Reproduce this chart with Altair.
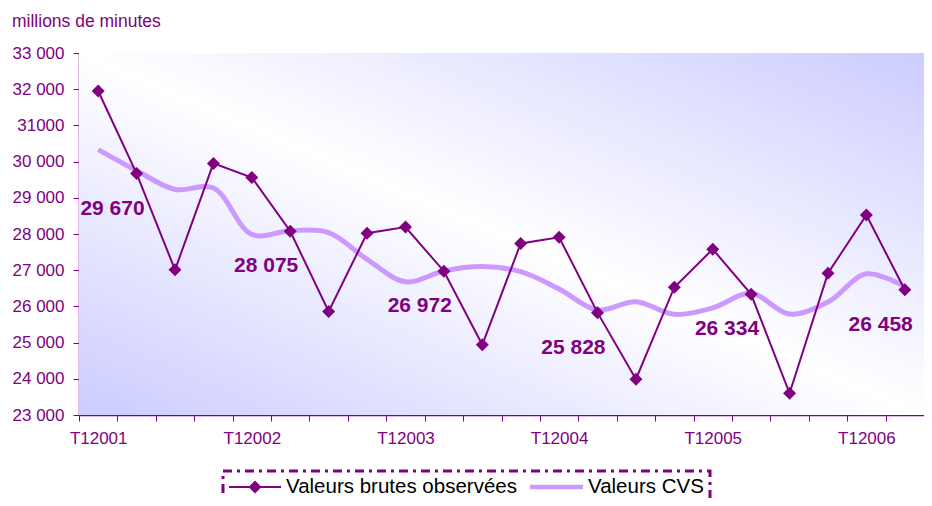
import altair as alt
import pandas as pd

quarters = [f"T{q}{y}" for y in range(2001, 2007) for q in range(1, 5)][:22]

raw_values = [31950, 29670, 27010, 29950, 29560, 28075, 25860, 28020,
              28190, 26972, 24940, 27740, 27910, 25828, 23990, 26530,
              27580, 26334, 23600, 26915, 28525, 26458]

cvs_values = [30330, 29750, 29230, 29270, 27990, 28090, 28040, 27300,
              26680, 26980, 27100, 26960, 26480, 25900, 26130, 25780,
              25960, 26360, 25790, 26120, 26900, 26545]

series_names = ["Valeurs brutes observées", "Valeurs CVS"]
series_colors = ["#800080", "#CC99FF"]
y_ticks = list(range(23000, 33001, 1000))

rows = []
for q, v in zip(quarters, raw_values):
    rows.append({"quarter": q, "series": "raw", "value": v})
for q, v in zip(quarters, cvs_values):
    rows.append({"quarter": q, "series": "cvs", "value": v})
df = pd.DataFrame(rows)

PURPLE = "#800080"
W, H = 845, 362

x_enc = alt.X(
    "quarter:N", title=None,
    scale=alt.Scale(type="band", domain=quarters, paddingInner=0, paddingOuter=0),
    axis=alt.Axis(
        labelAngle=0, tickBand="extent", grid=False,
        domainColor=PURPLE, domainWidth=1.5, tickColor=PURPLE, tickSize=6,
        labelColor=PURPLE, labelFontSize=17, labelPadding=9,
        labelExpr="isString(datum.value) && indexof(datum.value, 'T1') == 0 ? datum.value : ''",
    ),
)
y_enc = alt.Y(
    "value:Q", title=None,
    scale=alt.Scale(domain=[23000, 33000], nice=False, zero=False),
    axis=alt.Axis(
        values=y_ticks, grid=True, gridColor="#8f8f8f", gridWidth=1.2,
        domainColor=PURPLE, domainWidth=1.5, tickColor=PURPLE, tickSize=6,
        labelColor=PURPLE, labelFontSize=17, labelPadding=9,
        labelExpr="datum.value == 31000 ? '31000' : replace(format(datum.value, ','), ',', ' ')",
    ),
)

gradient = alt.LinearGradient(
    gradient="linear",
    stops=[alt.GradientStop(color="#CCCCFF", offset=0),
           alt.GradientStop(color="#FFFFFF", offset=0.5),
           alt.GradientStop(color="#CCCCFF", offset=1)],
    x1=1, y1=0, x2=0, y2=1,
)
one = alt.Data(values=[{"k": 0}])
bg = alt.Chart(one).mark_rect(fill=gradient).encode(
    x=alt.value(0), x2=alt.value(W), y=alt.value(0), y2=alt.value(H)
)

# ---- legend (drawn by hand) ----
LY = 434
legend_box = alt.Chart(one).mark_rect(
    filled=False, stroke=PURPLE, strokeWidth=3, strokeDash=[9, 5, 3, 5]
).encode(x=alt.value(144), x2=alt.value(631), y=alt.value(418), y2=alt.value(470))
leg_line1 = alt.Chart(one).mark_rule(color=series_colors[0], strokeWidth=2).encode(
    x=alt.value(150), x2=alt.value(202), y=alt.value(LY))
leg_pt1 = alt.Chart(one).mark_point(shape="diamond", filled=True, size=169, opacity=1,
                                    color=series_colors[0]).encode(x=alt.value(176), y=alt.value(LY))
leg_line2 = alt.Chart(one).mark_rule(color=series_colors[1], strokeWidth=4.5).encode(
    x=alt.value(451), x2=alt.value(504), y=alt.value(LY))
leg_txt1 = alt.Chart(alt.Data(values=[{"name": series_names[0]}])).mark_text(
    align="left", baseline="middle", fontSize=20.5, color="black"
).encode(x=alt.value(207), y=alt.value(LY), text="name:N")
leg_txt2 = alt.Chart(alt.Data(values=[{"name": series_names[1]}])).mark_text(
    align="left", baseline="middle", fontSize=20.5, color="black"
).encode(x=alt.value(509), y=alt.value(LY), text="name:N")

base = alt.Chart(df)
cvs_line = base.transform_filter("datum.series == 'cvs'").mark_line(
    strokeWidth=5, interpolate="catmull-rom", color=series_colors[1]
).encode(x=x_enc, y=y_enc)
raw_line = base.transform_filter("datum.series == 'raw'").mark_line(
    strokeWidth=2, color=series_colors[0]
).encode(x=x_enc, y=y_enc)
raw_pts = base.transform_filter("datum.series == 'raw'").mark_point(
    shape="diamond", filled=True, size=169, opacity=1, color=PURPLE
).encode(x=x_enc, y=y_enc)
labels = base.transform_filter(
    "datum.series == 'raw' && indexof(datum.quarter, 'T2') == 0"
).transform_calculate(
    label="replace(format(datum.value, ','), ',', ' ')"
).mark_text(
    align="right", baseline="middle", dx=8, dy=35, fontSize=21, fontWeight="bold", color=PURPLE
).encode(x=x_enc, y=y_enc, text="label:N")

chart = alt.layer(
    bg, cvs_line, raw_line, raw_pts, labels,
    legend_box, leg_line1, leg_pt1, leg_line2, leg_txt1, leg_txt2,
).properties(
    width=W, height=H,
    title=alt.TitleParams(
        "millions de minutes", anchor="start", frame="group", dx=-67, offset=14,
        fontSize=17.5, fontWeight="normal", color=PURPLE, font="Liberation Sans",
    ),
    autosize=alt.AutoSizeParams(type="none"),
    padding={"left": 71, "top": 45, "right": 0, "bottom": 83},
).configure(font="Liberation Sans").configure_view(stroke=None)

chart.save("out.html", embed_options={"renderer": "svg", "actions": False})
